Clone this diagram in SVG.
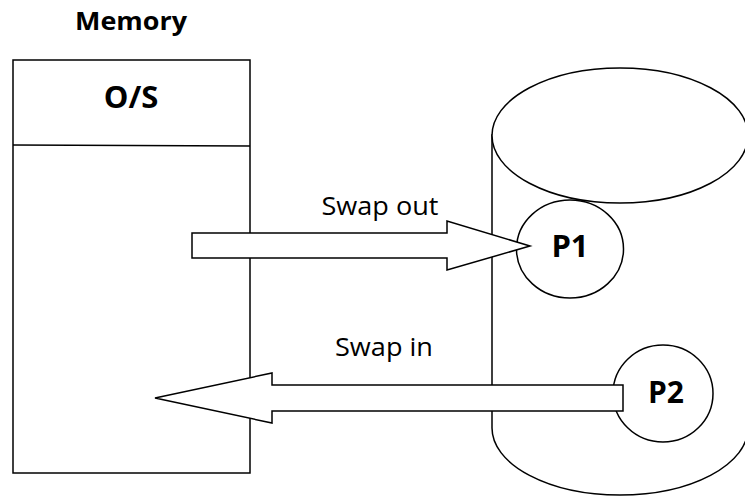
<svg xmlns="http://www.w3.org/2000/svg" width="745" height="496" viewBox="0 0 745 496">
<style>
.s{fill:#fff;stroke:#000;stroke-width:1.5}
.b{font-family:"Open Sans","Liberation Sans",sans-serif;font-weight:bold;fill:#000;text-anchor:middle}
.n{font-family:"Open Sans","Liberation Sans",sans-serif;fill:#000;text-anchor:middle}
</style>
<rect width="745" height="496" fill="#fff"/>
<g id="memory">
<text class="b" x="131" y="30" font-size="25" textLength="112" lengthAdjust="spacingAndGlyphs">Memory</text>
<rect class="s" x="13" y="60" width="237" height="413"/>
<line x1="13" y1="145" x2="250" y2="146" stroke="#000" stroke-width="1.5"/>
<text class="b" x="131" y="108" font-size="31">O/S</text>
</g>
<g id="disk">
<path class="s" d="M492,135 L492,428 A128,67 0 0 0 748,428 L748,135 Z"/>
<ellipse class="s" cx="620" cy="135.5" rx="128" ry="67.5"/>
</g>
<g id="p1">
<ellipse class="s" cx="570" cy="249" rx="53.5" ry="49"/>
<text class="b" x="570" y="257" font-size="31">P1</text>
</g>
<g id="p2">
<ellipse class="s" cx="663" cy="393.5" rx="50" ry="48.5"/>
<text class="b" x="666" y="403" font-size="30">P2</text>
</g>
<g id="connectors">
<polygon class="s" points="192,233 447,233 447,221 530,246 447,270 447,258 192,258"/>
<text class="n" x="380" y="215" font-size="26" textLength="117" lengthAdjust="spacingAndGlyphs">Swap out</text>
<polygon class="s" points="623,385 272,385 272,373 155,398 272,423 272,411 623,411"/>
<text class="n" x="384" y="356" font-size="26" textLength="98" lengthAdjust="spacingAndGlyphs">Swap in</text>
</g>
</svg>
